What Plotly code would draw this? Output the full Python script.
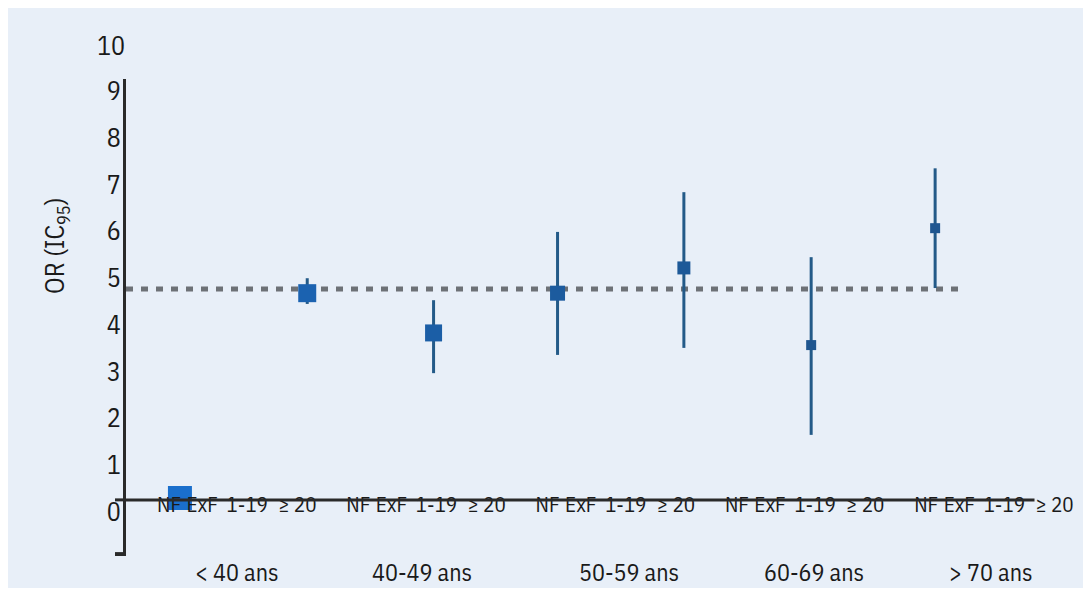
import plotly.graph_objects as go

# ---------------- data ----------------
age_groups = ["< 40 ans", "40-49 ans", "50-59 ans", "60-69 ans", "> 70 ans"]
smoking_cats = ["NF", "ExF", "1-19", "≥ 20"]
y_tick_values = [0, 1, 2, 3, 4, 5, 6, 7, 8, 9]

# odds ratios with 95% CI (x = position on the numeric x axis)
point_x = [0.23, 2.92, 5.59, 8.21, 10.88, 13.57, 16.19]
or_values = [0.04, 4.42, 3.57, 4.42, 4.96, 3.31, 5.81]
ci_low = [0.04, 4.19, 2.71, 3.10, 3.25, 1.39, 4.53]
ci_high = [0.04, 4.74, 4.27, 5.73, 6.58, 5.19, 7.09]
reference_or = 4.51

# ---------------- styling / layout constants ----------------
FONT = "IBM Plex Sans Condensed, DejaVu Sans Condensed, Liberation Sans, sans-serif"
TEXT = "#1a1a1a"
AXIS = "#2a2a2a"
PANEL = "#e8eff8"
marker_sizes = [24, 18, 17, 15, 13, 10, 10]
marker_colors = ["#1a6fcc", "#1b62b0", "#1b5ea6", "#1c5b9e", "#1d5998", "#1f5690", "#1f5690"]
sub_offsets = [0, 0.70, 1.65, 2.71]
group_label_offsets = [1.44, 1.34, 1.72, 1.63, 1.38]
X_RANGE = [-0.91, 18.85]
BASELINE_END = 18.29
Y_RANGE = [-1.2, 9.0]
PLOT_W = 1083 - 118 - 30

tick_pos = [4 * g + o for g in range(len(age_groups)) for o in sub_offsets]
tick_txt = smoking_cats * len(age_groups)

err_plus = [h - v for h, v in zip(ci_high, or_values)]
err_minus = [v - l for v, l in zip(or_values, ci_low)]

fig = go.Figure()
fig.add_trace(go.Scatter(
    x=point_x, y=or_values, mode="markers",
    marker=dict(symbol="square", size=marker_sizes, color=marker_colors, opacity=1, line=dict(width=0)),
    error_y=dict(type="data", symmetric=False, array=err_plus, arrayminus=err_minus,
                 color="#235a88", thickness=3, width=0),
    showlegend=False, hoverinfo="skip",
))

shapes = [
    # light panel background
    dict(type="rect", xref="paper", yref="paper", x0=-120 / PLOT_W, x1=1.1, y0=-0.067, y1=1.153,
         fillcolor=PANEL, line=dict(width=0), layer="below"),
    # reference OR dotted line
    dict(type="line", xref="x", yref="y", x0=X_RANGE[0], x1=16.75, y0=reference_or, y1=reference_or,
         line=dict(color="#6d7176", width=5, dash="7px,8px"), layer="below"),
    # horizontal baseline (x axis) at 0
    dict(type="line", xref="x", yref="y", x0=X_RANGE[0], x1=BASELINE_END, y0=0, y1=0,
         line=dict(color=AXIS, width=3)),
    # small stubs left of the y axis (at 0 and at axis bottom)
    dict(type="line", xref="paper", yref="y", x0=-11 / PLOT_W, x1=0, y0=0, y1=0,
         line=dict(color=AXIS, width=3)),
    dict(type="line", xref="paper", yref="y", x0=-11 / PLOT_W, x1=0, y0=Y_RANGE[0] + 0.03, y1=Y_RANGE[0] + 0.03,
         line=dict(color=AXIS, width=5)),
]

annotations = [
    dict(text=grp, x=4 * g + group_label_offsets[g], y=-0.034, xref="x", yref="paper",
         showarrow=False, font=dict(family=FONT, size=24, color=TEXT), xanchor="center", yanchor="middle")
    for g, grp in enumerate(age_groups)
]
annotations.append(dict(text="10", x=0, xref="paper", y=1.071, yref="paper", xanchor="right", yanchor="middle",
                        xshift=1, showarrow=False, font=dict(family=FONT, size=26, color=TEXT)))
annotations.append(dict(text="OR (IC<sub>95</sub>)", x=-70 / PLOT_W, xref="paper", y=0.650, yref="paper",
                        textangle=-90, showarrow=False, xanchor="center", yanchor="middle",
                        font=dict(family=FONT, size=26, color=TEXT)))

fig.update_layout(
    width=1083, height=582,
    margin=dict(l=118, r=30, t=71, b=34, pad=0),
    paper_bgcolor="white", plot_bgcolor="rgba(0,0,0,0)",
    font=dict(family=FONT, color=TEXT),
    shapes=shapes, annotations=annotations,
    xaxis=dict(range=X_RANGE, tickmode="array", tickvals=tick_pos, ticktext=tick_txt,
               showgrid=False, zeroline=False, showline=False, ticks="",
               anchor="free", position=(0 - Y_RANGE[0]) / (Y_RANGE[1] - Y_RANGE[0]),
               ticklabelstandoff=-10, tickfont=dict(family=FONT, size=21, color=TEXT)),
    yaxis=dict(range=Y_RANGE, tickmode="array", tickvals=y_tick_values,
               ticktext=[str(v) for v in y_tick_values],
               showgrid=False, showline=True, linecolor=AXIS, linewidth=3, ticks="",
               zeroline=False,
               ticklabelshift=12, ticklabelstandoff=-3,
               tickfont=dict(family=FONT, size=26, color=TEXT)),
)

fig.write_html("out.html")
